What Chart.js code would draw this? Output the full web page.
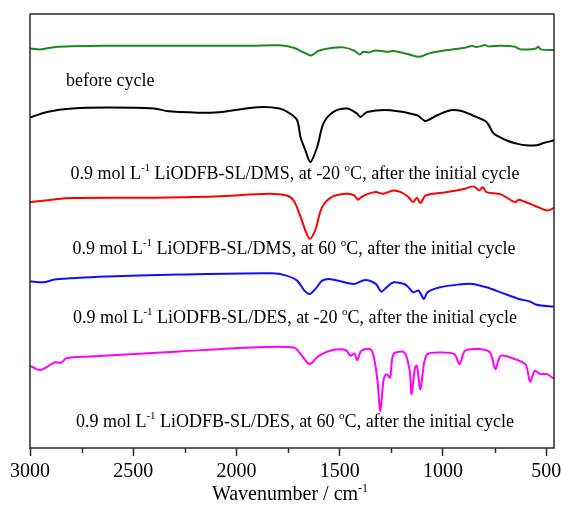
<!DOCTYPE html>
<html>
<head>
<meta charset="utf-8">
<script src="https://cdn.jsdelivr.net/npm/chart.js@4.4.1/dist/chart.umd.min.js"></script>
<style>
  html, body { margin: 0; padding: 0; background: #fff; }
  #wrap { width: 561px; height: 508px; position: relative; }
</style>
</head>
<body>
<div id="wrap"><canvas id="c" width="561" height="508"></canvas></div>
<script>
// ---- Data (wavenumber in cm-1, offset transmittance in arbitrary units) ----
const tickValues = [3000, 2500, 2000, 1500, 1000, 500];
const minorTickValues = [2750, 2250, 1750, 1250, 750];

const greenWn = [3000,2952,2865,2623,2277,1931,1792,1723,1671,1637,1602,1533,1481,1429,1403,1386,1360,1325,1273,1239,1170,1114,1066,979,893,876,858,841,815,798,780,720,651,625,564,547,538,526,460];
const greenT  = [398.7,397.7,400.3,401.3,401.3,401.3,401.7,399.3,394.3,391.7,396.3,399.3,399.7,396.3,392.7,395.3,394.7,396.7,395.3,396,393,390.3,393.7,397,399.3,400.3,401.3,400,401,402,400.7,401.3,400.3,397.7,398,399,400.3,397.7,397];

const blackWn = [3000,2917,2796,2623,2398,2329,2104,1896,1792,1741,1706,1690,1666,1642,1609,1579,1530,1464,1416,1400,1367,1254,1125,1085,1028,962,910,858,789,754,685,642,599,547,512,460];
const blackT  = [329.7,335.3,338.7,339.7,338.7,336,334.7,340,338.7,333.7,327,310.3,297,285.3,300.3,323.7,335.3,338.7,333.7,330.3,335.3,337,332,326.3,332,337,336.3,332,325.3,313.7,306.3,303.7,302,302,304.3,307];

const redWn = [3000,2882,2796,2450,2104,1844,1758,1723,1689,1663,1645,1619,1585,1533,1464,1429,1412,1395,1369,1325,1291,1239,1204,1170,1144,1126,1109,1083,979,893,850,824,806,789,720,651,633,547,495,460];
const redT  = [245.3,248,249.3,249.7,251,253.7,252,247,230.3,215.3,208.7,217,240.3,251,253.7,252,247.7,250.3,253,255.3,253.7,257,255.3,251,245.3,249.7,244.3,252,255.3,258.7,261,257,260.3,255.3,253,245.3,247.7,241,237,239.7];

const blueWn = [3000,2934,2882,2623,2277,1827,1758,1706,1671,1645,1611,1585,1550,1498,1429,1377,1325,1299,1273,1239,1187,1170,1144,1118,1092,1075,1014,927,858,789,720,633,581,547,460];
const blueT  = [166.3,165.3,168,171,173,174.3,172,167,157,153.7,160.3,167,168.7,166.3,163.7,167.7,163.7,156,160.3,165.3,163.7,161,155.3,157,148.7,155.3,160.3,163,163.7,160.3,155.3,148.7,146.3,143,141];

const magentaWn = [3000,2952,2917,2882,2848,2822,2709,2277,1931,1723,1689,1645,1602,1533,1472,1447,1429,1415,1395,1351,1334,1317,1303,1287,1273,1256,1239,1187,1161,1152,1135,1126,1109,1092,1075,1014,945,919,893,824,772,746,720,651,599,578,555,529,495,460];
const magentaT  = [82,77.7,81,85.3,85.3,89.7,91.3,96.3,100.3,100.3,93.7,83.7,92,97.7,97.7,92,94.3,87.7,97,98.7,90.3,67,37,68.7,73.7,70.3,93.7,95.3,77,53.7,80.3,82,58.7,83.7,93.7,95.3,93.7,83.7,97,98.7,95.3,78.7,92,88.7,83,66.3,77,73.7,73.7,68.7];

const seriesColors = ['#1a8a1a', '#000000', '#ff0000', '#1010ff', '#ff00ff'];

const curveLabels = [
  [{t:'before cycle'}],
  [{t:'0.9 mol L'},{t:'-1',sup:true},{t:' LiODFB-SL/DMS, at -20 '},{t:'o',sup:true},{t:'C, after the initial cycle'}],
  [{t:'0.9 mol L'},{t:'-1',sup:true},{t:' LiODFB-SL/DMS, at 60 '},{t:'o',sup:true},{t:'C, after the initial cycle'}],
  [{t:'0.9 mol L'},{t:'-1',sup:true},{t:' LiODFB-SL/DES, at -20 '},{t:'o',sup:true},{t:'C, after the initial cycle'}],
  [{t:'0.9 mol L'},{t:'-1',sup:true},{t:' LiODFB-SL/DES, at 60 '},{t:'o',sup:true},{t:'C, after the initial cycle'}]
];
const axisTitle = [{t:'Wavenumber / cm'},{t:'-1',sup:true}];

// ---- build ----
function pts(wn, t) { return wn.map((w, i) => ({x: w, y: t[i]})); }
const allSeries = [[greenWn, greenT],[blackWn, blackT],[redWn, redT],[blueWn, blueT],[magentaWn, magentaT]];

const FONT = '"Liberation Serif", "Times New Roman", serif';

function drawRich(ctx, parts, x, y, size, align) {
  const supSize = Math.round(size * 0.62);
  let w = 0;
  parts.forEach(p => {
    ctx.font = (p.sup ? supSize : size) + 'px ' + FONT;
    p.w = ctx.measureText(p.t).width;
    w += p.w;
  });
  let cx = align === 'left' ? x : x - w / 2;
  ctx.textBaseline = 'alphabetic';
  ctx.textAlign = 'left';
  parts.forEach(p => {
    ctx.font = (p.sup ? supSize : size) + 'px ' + FONT;
    ctx.fillText(p.t, cx, p.sup ? y - size * 0.42 : y);
    cx += p.w;
  });
}

const decor = {
  id: 'decor',
  afterDraw(chart) {
    const ctx = chart.ctx;
    const a = chart.chartArea;
    const xs = chart.scales.x;
    ctx.save();
    // frame
    ctx.strokeStyle = '#2a2a2a';
    ctx.lineWidth = 1.5;
    ctx.strokeRect(a.left, a.top, a.right - a.left, a.bottom - a.top);
    // minor ticks
    ctx.beginPath();
    minorTickValues.forEach(v => {
      const px = Math.round(xs.getPixelForValue(v)) + 0.5;
      ctx.moveTo(px, a.bottom);
      ctx.lineTo(px, a.bottom + 5);
    });
    ctx.stroke();
    // labels
    ctx.fillStyle = '#000';
    drawRich(ctx, curveLabels[0], 66, 86, 18, 'left');
    drawRich(ctx, curveLabels[1], 295, 179, 18, 'center');
    drawRich(ctx, curveLabels[2], 294, 254, 18, 'center');
    drawRich(ctx, curveLabels[3], 295, 323, 18, 'center');
    drawRich(ctx, curveLabels[4], 295, 427, 18, 'center');
    drawRich(ctx, axisTitle, 290, 500, 20, 'center');
    ctx.restore();
  }
};

new Chart(document.getElementById('c'), {
  type: 'line',
  data: {
    datasets: allSeries.map((s, i) => ({
      data: pts(s[0], s[1]),
      borderColor: seriesColors[i],
      borderWidth: 2,
      pointRadius: 0,
      fill: false,
      tension: 0.3
    }))
  },
  options: {
    responsive: false,
    animation: false,
    events: [],
    layout: { padding: { left: 30, right: 7, top: 14, bottom: 20 } },
    plugins: { legend: { display: false }, tooltip: { enabled: false }, title: { display: false } },
    scales: {
      x: {
        type: 'linear',
        reverse: true,
        min: 462,
        max: 3000,
        afterBuildTicks: (scale) => { scale.ticks = tickValues.map(v => ({value: v})); },
        afterFit: (scale) => { scale.paddingLeft = 0; scale.paddingRight = 0; },
        border: { display: false },
        grid: { display: true, drawOnChartArea: false, drawTicks: true, tickLength: 8, tickColor: '#2a2a2a', tickWidth: 1.5 },
        ticks: { autoSkip: false, maxRotation: 0, padding: 4, color: '#000', font: { family: FONT, size: 20 }, callback: (v) => String(v) }
      },
      y: { display: false, min: 0, max: 433 }
    }
  },
  plugins: [decor]
});
</script>
</body>
</html>
